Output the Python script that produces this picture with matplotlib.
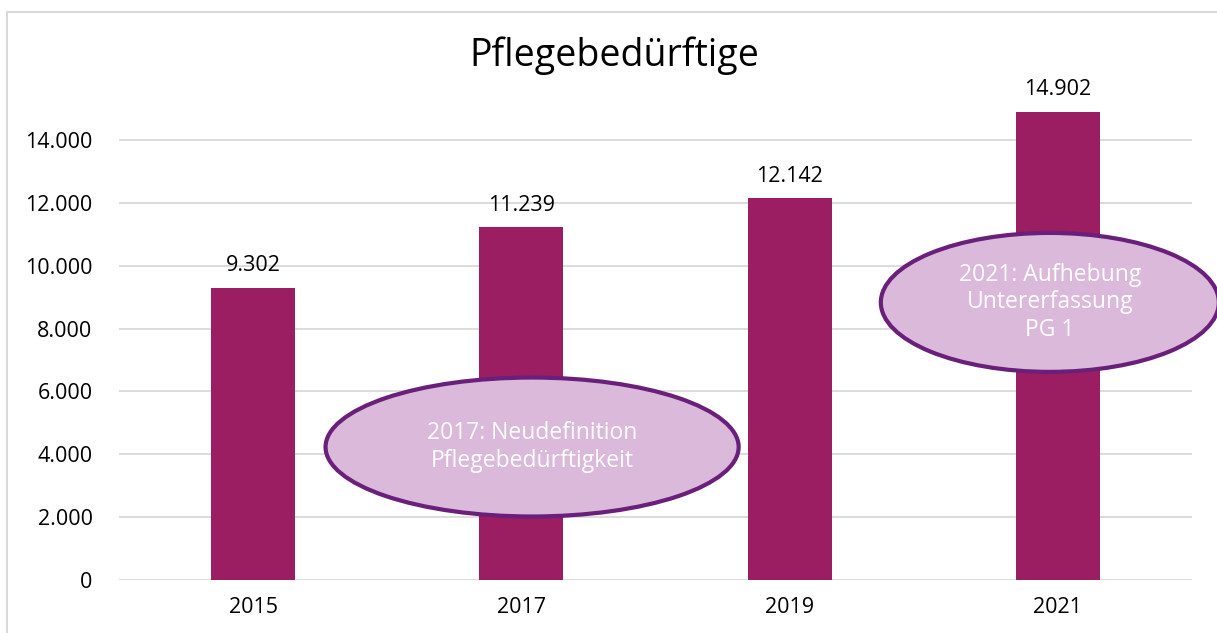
import matplotlib.pyplot as plt
from matplotlib.patches import Ellipse, Rectangle

plt.rcParams['font.family'] = ['Open Sans', 'DejaVu Sans']

years = ['2015', '2017', '2019', '2021']
counts = [9302, 11239, 12142, 14902]
y_ticks = [0, 2000, 4000, 6000, 8000, 10000, 12000, 14000]

notes = ['2017: Neudefinition\nPflegebedürftigkeit',
         '2021: Aufhebung\nUntererfassung\nPG 1']
# ellipse centre (category position, value), width (categories), height (value)
note_pos = [(1.04, 4230), (2.97, 8830)]
note_size = [(1.54, 4420), (1.26, 4420)]

bar_color = '#9b1e63'
fill_color = '#dbb9da'
edge_color = '#6a1f7a'
grid_color = '#d9d9d9'


def fmt(v):
    return f"{v:,}".replace(',', '.')


W, H = 1217, 633
fig = plt.figure(figsize=(W / 100, H / 100), dpi=100)
ax = fig.add_axes([119 / W, (H - 580) / H, 1073 / W, (580 - 77) / H])

x = range(len(years))
ax.bar(x, counts, width=0.313, color=bar_color, zorder=2)
for xi, v in zip(x, counts):
    ax.annotate(fmt(v), (xi, v), xytext=(0, 8), textcoords='offset points',
                ha='center', va='bottom', fontsize=15.5, color='black')

ax.set_xlim(-0.5, 3.5)
ax.set_ylim(0, 16000)
ax.set_yticks(y_ticks)
ax.set_yticklabels([fmt(t) for t in y_ticks], fontsize=15.5)
ax.set_xticks(list(x))
ax.set_xticklabels(years, fontsize=15.5)
ax.tick_params(length=0, pad=12)
ax.tick_params(axis='y', pad=19)
for t in y_ticks:
    ax.axhline(t, color=grid_color, lw=1.3, zorder=1)
for s in ax.spines.values():
    s.set_visible(False)

for txt, (cx, cy), (w, h) in zip(notes, note_pos, note_size):
    e = Ellipse((cx, cy), w, h, facecolor=fill_color, edgecolor=edge_color,
                lw=3, zorder=3, clip_on=False)
    ax.add_patch(e)
    ax.text(cx, cy, txt, ha='center', va='center', color='white',
            fontsize=16.5, zorder=4, linespacing=1.2)

fig.text(614 / W, 1 - 56 / H, 'Pflegebedürftige', ha='center', va='center',
         fontsize=27, color='black')

fig.patches.append(Rectangle((7 / W, -0.1), 1.2, (H - 12) / H + 0.1,
                             transform=fig.transFigure, fill=False,
                             edgecolor=grid_color, lw=1.5))

fig.savefig('out.png', dpi=100)
